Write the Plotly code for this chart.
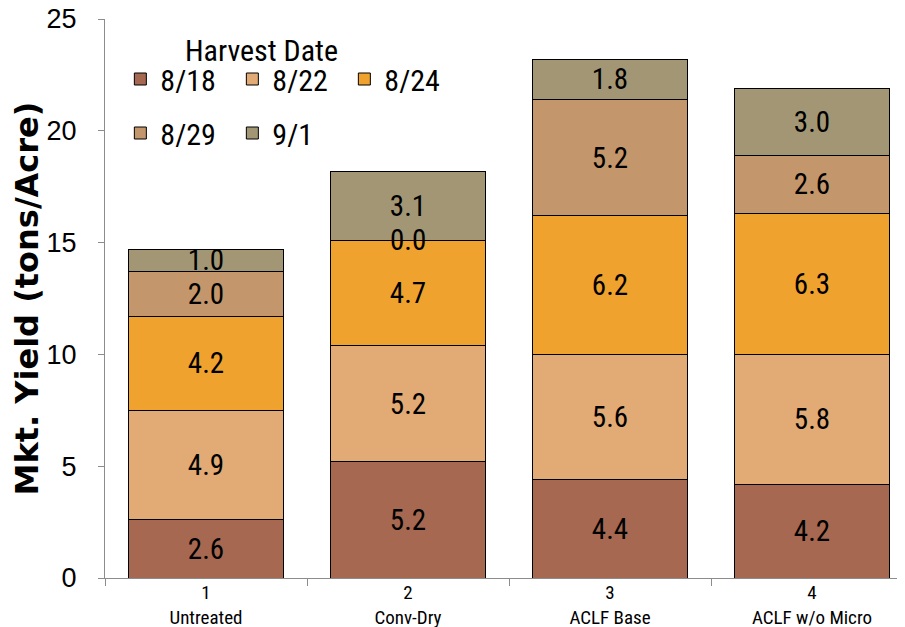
import plotly.graph_objects as go

categories = ["1<br>Untreated", "2<br>Conv-Dry", "3<br>ACLF Base", "4<br>ACLF w/o Micro"]
series_names = ["8/18", "8/22", "8/24", "8/29", "9/1"]
v_818 = [2.6, 5.2, 4.4, 4.2]
v_822 = [4.9, 5.2, 5.6, 5.8]
v_824 = [4.2, 4.7, 6.2, 6.3]
v_829 = [2.0, 0.0, 5.2, 2.6]
v_91 = [1.0, 3.1, 1.8, 3.0]
y_ticks = [0, 5, 10, 15, 20, 25]

series_values = [v_818, v_822, v_824, v_829, v_91]
colors = ["#A66850", "#E2AA74", "#F0A22E", "#C4966B", "#A39674"]
legend_ids = ["legend", "legend", "legend", "legend2", "legend2"]

NARROW = "Roboto Condensed, DejaVu Sans Condensed, sans-serif"
LABEL_SIZE = 29

# page body has an 8px margin, so the figure's margins compensate for it
PLOT_W = 808.0
PLOT_H = 559.0

fig = go.Figure()
for name, vals, col, lg in zip(series_names, series_values, colors, legend_ids):
    fig.add_trace(go.Bar(
        x=categories, y=vals, name=name,
        marker=dict(color=col, line=dict(color="#000000", width=1)),
        texttemplate="%{y:.1f}", textposition="inside",
        insidetextanchor="middle", textangle=0, constraintext="none",
        textfont=dict(family=NARROW, size=LABEL_SIZE, color="#000000"),
        legend=lg,
    ))

# labels for zero-height segments (the library does not draw text on empty bars)
annotations = []
for si, vals in enumerate(series_values):
    for ci, v in enumerate(vals):
        if v == 0:
            base = sum(series_values[k][ci] for k in range(si))
            annotations.append(dict(x=categories[ci], y=base, xref="x", yref="y",
                                    text=f"{v:.1f}", showarrow=False, yanchor="middle",
                                    font=dict(family=NARROW, size=LABEL_SIZE, color="#000000")))

annotations.append(dict(text="Harvest Date", xref="paper", yref="paper",
                        x=(183 - 105) / PLOT_W, y=(578 - 50) / PLOT_H, xanchor="left", yanchor="middle",
                        showarrow=False, font=dict(family=NARROW, size=30, color="#000000")))

fig.update_layout(
    width=905, height=627,
    barmode="stack", bargap=0.233,
    margin=dict(l=97, r=0, t=11, b=57),
    plot_bgcolor="white", paper_bgcolor="white",
    uniformtext=dict(mode="show", minsize=LABEL_SIZE),
    xaxis=dict(
        range=[-0.5, 3.5], showline=True, linecolor="#8C8C8C", linewidth=1,
        ticks="outside", tickson="boundaries", ticklen=7, tickcolor="#8C8C8C",
        ticklabelstandoff=-3, automargin=False,
        tickfont=dict(family=NARROW, size=19, color="#000000"),
        showgrid=False, zeroline=False,
    ),
    yaxis=dict(
        range=[0, 25], tickvals=y_ticks, showline=True, linecolor="#8C8C8C", linewidth=1,
        ticks="outside", ticklen=6, tickcolor="#8C8C8C", ticklabelstandoff=16, automargin=False,
        ticklabeloverflow="allow",
        tickfont=dict(family="Liberation Sans, Arial, sans-serif", size=27, color="#000000"),
        showgrid=False, zeroline=False,
        title=dict(text="Mkt. Yield (tons/Acre)", standoff=4,
                   font=dict(family="DejaVu Sans, Verdana, sans-serif", size=32, color="#000000",
                             weight="bold")),
    ),
    legend=dict(orientation="h", x=0.019, xanchor="left", y=(578 - 79) / PLOT_H, yanchor="middle",
                entrywidth=67, bgcolor="rgba(0,0,0,0)", traceorder="normal",
                font=dict(family=NARROW, size=30, color="#000000")),
    legend2=dict(orientation="h", x=0.019, xanchor="left", y=(578 - 133) / PLOT_H, yanchor="middle",
                 entrywidth=67, bgcolor="rgba(0,0,0,0)", traceorder="normal",
                 font=dict(family=NARROW, size=30, color="#000000")),
    annotations=annotations,
)

fig.write_html("out.html")
